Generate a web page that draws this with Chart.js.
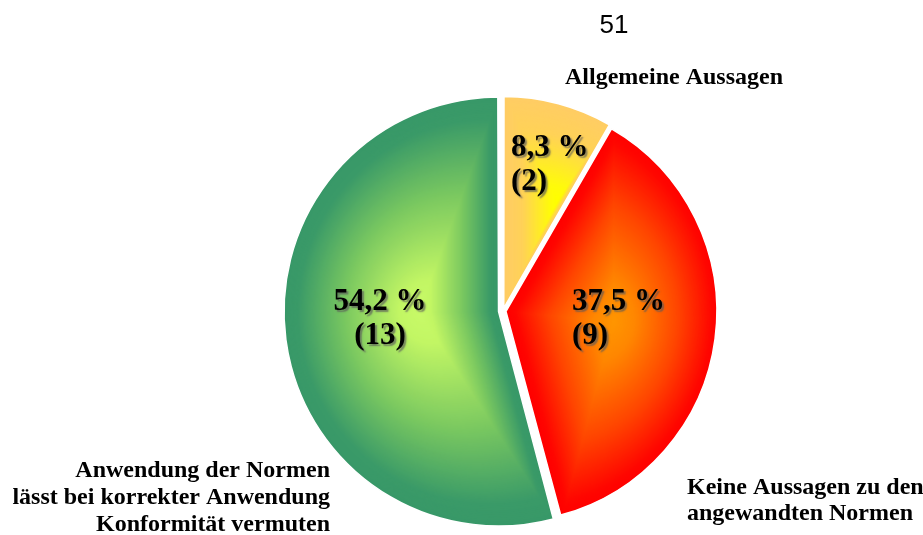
<!DOCTYPE html>
<html lang="de">
<head>
<meta charset="utf-8">
<title>Aussagen zu Normen</title>
<script src="https://cdn.jsdelivr.net/npm/chart.js@4.4.0/dist/chart.umd.min.js"></script>
<style>
  html, body { margin: 0; padding: 0; background: #fff; }
  #wrap { width: 923px; height: 535px; }
</style>
</head>
<body>
<div id="wrap"><canvas id="pieChart" width="923" height="535"></canvas></div>
<script>
// --- Data ---
const sliceNames = ['Allgemeine Aussagen', 'Keine Aussagen zu den angewandten Normen', 'Anwendung der Normen lässt bei korrekter Anwendung Konformität vermuten'];
const sliceCounts = [2, 9, 13];
const captionLines = [
    ['Allgemeine Aussagen'],
    ['Keine Aussagen zu den', 'angewandten Normen'],
    ['Anwendung der Normen', 'lässt bei korrekter Anwendung', 'Konformität vermuten']
];
const pageNumber = '51';

// --- Look ---
const PIE_RADIUS = 210;
const sliceOffsets = [12, 12, 18];
const serif = '"Liberation Serif", "Times New Roman", serif';
// path gradient stops per slice: [position from center to edge, rgb]
const sliceShades = [
    [[0, [255, 255, 0]], [0.15, [255, 250, 12]], [0.65, [255, 210, 88]], [1, [255, 204, 102]]],
    [[0, [255, 150, 0]], [0.2, [255, 135, 0]], [0.6, [255, 70, 0]], [0.92, [255, 6, 0]], [1, [255, 0, 0]]],
    [[0, [200, 250, 104]], [0.15, [194, 246, 100]], [0.55, [122, 200, 96]], [0.9, [58, 154, 104]], [1, [56, 152, 104]]]
];
const innerSpots = [
    { x: 511, y: 156, align: 'left' },
    { x: 572, y: 310, align: 'left' },
    { x: 380, y: 310, align: 'center' }
];
const captionSpots = [
    { x: 565, y: 84, align: 'left', lh: 27 },
    { x: 687, y: 494, align: 'left', lh: 26 },
    { x: 330, y: 477, align: 'right', lh: 27 }
];

const total = sliceCounts.reduce((a, b) => a + b, 0);

function colorAt(stops, t) {
    for (let i = 1; i < stops.length; i++) {
        if (t <= stops[i][0]) {
            const [p0, c0] = stops[i - 1], [p1, c1] = stops[i];
            const k = (t - p0) / (p1 - p0 || 1);
            const c = c0.map((v, j) => Math.round(v + (c1[j] - v) * k));
            return `rgb(${c[0]},${c[1]},${c[2]})`;
        }
    }
    const c = stops[stops.length - 1][1];
    return `rgb(${c[0]},${c[1]},${c[2]})`;
}

// shaded fill that follows the wedge outline (scaled copies toward its box center)
const patternCache = {};
function wedgeFill(chart, index) {
    const area = chart.chartArea;
    const key = index + ':' + area.left + ':' + area.top;
    if (patternCache[key]) return patternCache[key];
    const cx = (area.left + area.right) / 2, cy = (area.top + area.bottom) / 2;
    let before = 0;
    for (let i = 0; i < index; i++) before += sliceCounts[i];
    const a0 = -Math.PI / 2 + 2 * Math.PI * before / total;
    const a1 = a0 + 2 * Math.PI * sliceCounts[index] / total;
    const r = PIE_RADIUS + 5;

    let minX = cx, maxX = cx, minY = cy, maxY = cy;
    for (let k = 0; k <= 72; k++) {
        const a = a0 + (a1 - a0) * k / 72;
        const x = cx + r * Math.cos(a), y = cy + r * Math.sin(a);
        minX = Math.min(minX, x); maxX = Math.max(maxX, x);
        minY = Math.min(minY, y); maxY = Math.max(maxY, y);
    }
    const gx = (minX + maxX) / 2, gy = (minY + maxY) / 2;

    const off = document.createElement('canvas');
    off.width = chart.width; off.height = chart.height;
    const g = off.getContext('2d');
    const stops = sliceShades[index];
    g.fillStyle = colorAt(stops, 1);
    g.fillRect(0, 0, off.width, off.height);
    const steps = 120;
    for (let s = steps; s > 0; s--) {
        const t = s / steps;
        g.save();
        g.translate(gx, gy); g.scale(t, t); g.translate(-gx, -gy);
        g.beginPath();
        g.moveTo(cx, cy);
        g.arc(cx, cy, r, a0, a1);
        g.closePath();
        g.fillStyle = colorAt(stops, t);
        g.fill();
        g.restore();
    }
    patternCache[key] = chart.ctx.createPattern(off, 'no-repeat');
    return patternCache[key];
}

// --- Texts: page number, values in the wedges, captions around ---
const textPlugin = {
    id: 'pieTexts',
    afterDraw(chart) {
        const ctx = chart.ctx;
        ctx.save();
        ctx.fillStyle = '#000';
        ctx.textBaseline = 'alphabetic';

        ctx.font = '26px "Liberation Sans", Arial, sans-serif';
        ctx.textAlign = 'center';
        ctx.fillText(pageNumber, 614, 33);

        ctx.font = 'bold 31px ' + serif;
        sliceCounts.forEach((v, i) => {
            const pct = (v / total * 100).toFixed(1).replace('.', ',') + ' %';
            const spot = innerSpots[i];
            ctx.save();
            ctx.shadowColor = 'rgba(90,90,90,0.7)';
            ctx.shadowOffsetX = 2;
            ctx.shadowOffsetY = 2;
            ctx.shadowBlur = 1.5;
            ctx.textAlign = spot.align;
            ctx.fillText(pct, spot.x, spot.y);
            ctx.fillText('(' + v + ')', spot.x, spot.y + 34);
            ctx.restore();
        });

        ctx.font = 'bold 24px ' + serif;
        captionLines.forEach((lines, i) => {
            const spot = captionSpots[i];
            ctx.textAlign = spot.align;
            lines.forEach((line, j) => ctx.fillText(line, spot.x, spot.y + j * spot.lh));
        });
        ctx.restore();
    }
};

const pieChart = new Chart(document.getElementById('pieChart').getContext('2d'), {
    type: 'pie',
    data: {
        labels: sliceNames,
        datasets: [{
            data: sliceCounts,
            backgroundColor: (c) => c.chart.chartArea ? wedgeFill(c.chart, c.dataIndex) : colorAt(sliceShades[c.dataIndex], 0.5),
            borderColor: '#ffffff',
            borderWidth: 1.5,
            offset: sliceOffsets,
            hoverOffset: 0,
            radius: PIE_RADIUS
        }]
    },
    options: {
        responsive: false,
        animation: false,
        layout: { padding: { left: 83, top: 87, right: 0, bottom: 0 } },
        plugins: {
            legend: { display: false },
            tooltip: { enabled: false }
        },
        events: []
    },
    plugins: [textPlugin]
});
</script>
</body>
</html>
